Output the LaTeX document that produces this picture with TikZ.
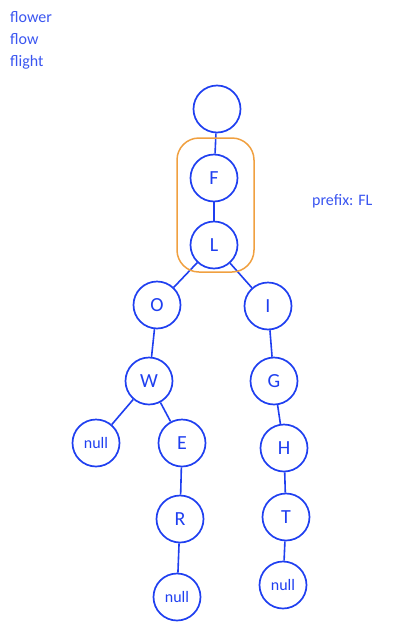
\documentclass[tikz,border=0pt]{standalone}
\usepackage{fontspec}
\setmainfont{Carlito}
\definecolor{inkblue}{HTML}{1F3FF0}
\definecolor{txtblue}{HTML}{3A55F0}
\definecolor{hlorange}{HTML}{F0A040}
\begin{document}
\begin{tikzpicture}[x=1pt,y=-1pt,
  trie/.style={circle,draw=inkblue,line width=1.7pt,minimum size=47pt,inner sep=0pt,
    text=inkblue,font=\fontsize{20}{20}\selectfont},
  nullnode/.style={trie,font=\fontsize{16}{16}\selectfont},
  link/.style={draw=inkblue,line width=1.6pt},
  note/.style={text=txtblue,font=\fontsize{16}{18}\selectfont,inner sep=0pt}]
\useasboundingbox (0,0) rectangle (402,635);
\node[note,anchor=base west] (w1) at (10,22) {flower};
\node[note,anchor=base west] (w2) at (10,44) {flow};
\node[note,anchor=base west] (w3) at (10,66) {flight};
\node[note,anchor=base west] (pf) at (312,205) {prefix: FL};

\node[trie] (root) at (217,109) {};
\node[trie] (F) at (214,178) {F};
\node[trie] (L) at (214,245) {L};
\node[trie] (O) at (157,305) {O};
\node[trie] (I) at (268,306) {I};
\node[trie] (W) at (149,381) {W};
\node[trie] (G) at (274,381) {G};
\node[nullnode] (n1) at (96,443) {null};
\node[trie] (E) at (182,443) {E};
\node[trie] (H) at (284,448) {H};
\node[trie] (R) at (180,519) {R};
\node[trie] (T) at (286,517) {T};
\node[nullnode] (n2) at (177,597) {null};
\node[nullnode] (n3) at (283,585) {null};

\draw[link] (root) -- (F);
\draw[link] (F) -- (L);
\draw[link] (L) -- (O);
\draw[link] (L) -- (I);
\draw[link] (O) -- (W);
\draw[link] (I) -- (G);
\draw[link] (W) -- (n1);
\draw[link] (W) -- (E);
\draw[link] (G) -- (H);
\draw[link] (E) -- (R);
\draw[link] (H) -- (T);
\draw[link] (R) -- (n2);
\draw[link] (T) -- (n3);

\draw[hlorange,line width=1.5pt,rounded corners=22pt] (177,138) rectangle (254,272);
\end{tikzpicture}
\end{document}
